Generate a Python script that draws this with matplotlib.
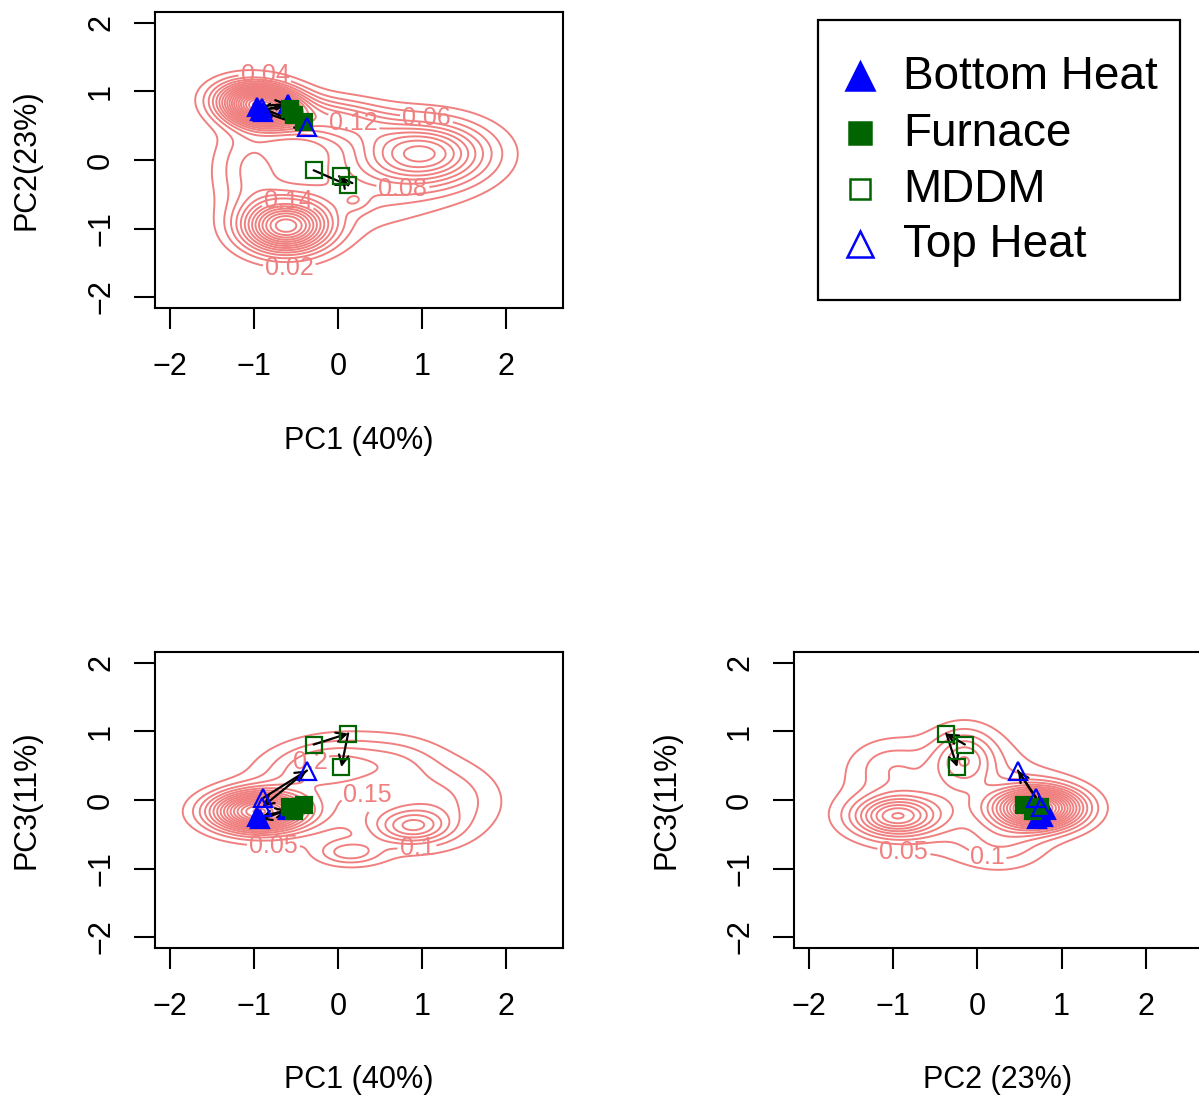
import numpy as np
import matplotlib
matplotlib.use("Agg")
import matplotlib.pyplot as plt
from matplotlib.patches import Rectangle

plt.rcParams['font.family'] = ['Liberation Sans', 'DejaVu Sans']

# ---- sample scores (PC1, PC2, PC3), in processing order within each group ----
groups = ["Bottom Heat", "Furnace", "MDDM", "Top Heat"]
bottom_pc1 = [-0.96, -0.60, -0.93]
bottom_pc2 = [0.78, 0.82, 0.71]
bottom_pc3 = [-0.25, -0.15, -0.28]

furnace_pc1 = [-0.57, -0.52, -0.40]
furnace_pc2 = [0.74, 0.66, 0.55]
furnace_pc3 = [-0.10, -0.16, -0.07]

mddm_pc1 = [-0.29, 0.12, 0.04]
mddm_pc2 = [-0.15, -0.37, -0.24]
mddm_pc3 = [0.81, 0.97, 0.48]

top_pc1 = [-0.89, -0.37, -0.90]
top_pc2 = [0.70, 0.48, 0.76]
top_pc3 = [0.03, 0.43, -0.10]

# ---- background density: Gaussian bumps (centre x, centre y, sd x, sd y, corr, height) ----
dens12_cx = [-0.92, -0.05, 1.02, -0.62, 0.10, -1.05, 0.20]
dens12_cy = [0.80, 0.58, 0.10, -0.97, -0.30, -0.10, -0.60]
dens12_sx = [0.32, 0.45, 0.52, 0.35, 0.80, 0.28, 0.12]
dens12_sy = [0.21, 0.22, 0.32, 0.26, 0.50, 0.45, 0.10]
dens12_r = [-0.15, -0.2, 0.0, 0.0, 0.0, 0.0, 0.0]
dens12_h = [0.38, 0.10, 0.19, 0.28, 0.05, 0.05, 0.03]

dens13_cx = [-0.95, 0.89, 0.14, -0.15, 0.50, 1.30, 0.75]
dens13_cy = [-0.17, -0.39, -0.77, 0.50, -0.05, 0.00, 0.55]
dens13_sx = [0.38, 0.30, 0.25, 0.50, 0.85, 0.40, 0.35]
dens13_sy = [0.20, 0.17, 0.12, 0.28, 0.50, 0.35, 0.25]
dens13_r = [0.0, 0.0, 0.0, 0.2, 0.0, 0.0, 0.0]
dens13_h = [0.78, 0.26, 0.15, 0.18, 0.12, 0.08, 0.07]

dens23_cx = [0.72, -0.97, -0.15, -0.30, 0.30, -1.05]
dens23_cy = [-0.12, -0.24, 0.62, 0.05, -0.65, 0.50]
dens23_sx = [0.34, 0.34, 0.25, 0.80, 0.35, 0.30]
dens23_sy = [0.20, 0.20, 0.28, 0.55, 0.25, 0.25]
dens23_r = [0.0, 0.0, 0.0, 0.0, 0.0, 0.0]
dens23_h = [0.80, 0.42, 0.22, 0.14, 0.10, 0.08]

COL = {"Bottom Heat": "#0000FF", "Furnace": "#006400", "MDDM": "#006400", "Top Heat": "#0000FF"}
MARK = {"Bottom Heat": "^", "Furnace": "s", "MDDM": "s", "Top Heat": "^"}
FILLED = {"Bottom Heat": True, "Furnace": True, "MDDM": False, "Top Heat": False}
MSIZE = {"^": 12.5, "s": 11}
CONTOUR_COL = "#F08080"

W, H = 1199, 1098
fig = plt.figure(figsize=(W / 100, H / 100), dpi=100)


def px_axes(x0, x1, y0, y1):
    return fig.add_axes([x0 / W, 1 - y1 / H, (x1 - x0) / W, (y1 - y0) / H])


def density(xx, yy, cx, cy, sx, sy, r, h):
    z = np.zeros_like(xx)
    for a, b, s, t, rho, hh in zip(cx, cy, sx, sy, r, h):
        u = (xx - a) / s
        v = (yy - b) / t
        q = (u * u - 2 * rho * u * v + v * v) / (1 - rho * rho)
        z += hh * np.exp(-0.5 * q)
    return z


def style_axes(ax):
    ax.set_xlim(-2.18, 2.68)
    ax.set_ylim(-2.16, 2.16)
    ax.set_xticks([-2, -1, 0, 1, 2])
    ax.set_yticks([-2, -1, 0, 1, 2])
    for s in ax.spines.values():
        s.set_linewidth(1.5)
    ax.tick_params(direction='out', length=15, width=1.5, labelsize=22, pad=17)
    ax.tick_params(axis='y', labelrotation=90, pad=13)
    for lab in ax.get_yticklabels():
        lab.set_va('center')


def draw_panel(ax, xs, ys, dens, step, labels):
    gx = np.linspace(-2.2, 2.7, 450)
    gy = np.linspace(-2.2, 2.2, 450)
    xx, yy = np.meshgrid(gx, gy)
    zz = density(xx, yy, *dens)
    n_levels = int(zz.max() / step)
    label_pos = {round(lev / step): pos for lev, pos in labels}
    for k in range(1, n_levels + 1):
        cs = ax.contour(xx, yy, zz, levels=[k * step], colors=CONTOUR_COL,
                        linewidths=1.4, zorder=1)
        if k in label_pos:
            txts = ax.clabel(cs, inline=True, inline_spacing=2, fontsize=18,
                             fmt=lambda v: f"{v:g}", manual=[label_pos[k]],
                             colors=CONTOUR_COL)
            for t in txts:
                t.set_rotation(0)
    for g, x, y in zip(groups, xs, ys):
        for i in range(len(x) - 1):
            ax.annotate("", xy=(x[i + 1], y[i + 1]), xytext=(x[i], y[i]),
                        arrowprops=dict(arrowstyle='->', color='black', lw=1.6,
                                        shrinkA=0, shrinkB=0, mutation_scale=17),
                        zorder=3)
    for g, x, y in zip(groups, xs, ys):
        m = MARK[g]
        ax.plot(x, y, ls='none', marker=m, ms=MSIZE[m], mew=1.6,
                mec=COL[g], mfc=COL[g] if FILLED[g] else 'none', zorder=4)
    style_axes(ax)


# PC1 vs PC2
ax1 = px_axes(155, 563, 12, 308)
draw_panel(ax1,
           [bottom_pc1, furnace_pc1, mddm_pc1, top_pc1],
           [bottom_pc2, furnace_pc2, mddm_pc2, top_pc2],
           (dens12_cx, dens12_cy, dens12_sx, dens12_sy, dens12_r, dens12_h), 0.02,
           [(0.04, (-0.87, 1.23)), (0.12, (0.23, 0.68)), (0.06, (1.06, 0.68)),
            (0.08, (0.77, -0.58)), (0.14, (-0.6, -0.72)), (0.02, (-0.58, -1.54))])

# PC1 vs PC3
ax2 = px_axes(155, 563, 652, 948)
draw_panel(ax2,
           [bottom_pc1, furnace_pc1, mddm_pc1, top_pc1],
           [bottom_pc3, furnace_pc3, mddm_pc3, top_pc3],
           (dens13_cx, dens13_cy, dens13_sx, dens13_sy, dens13_r, dens13_h), 0.05,
           [(0.05, (-0.77, -0.6)), (0.1, (0.94, -0.68)), (0.15, (0.36, 0.36)),
            (0.2, (-0.36, 0.62))])

# PC2 vs PC3
ax3 = px_axes(794, 1203, 652, 948)
draw_panel(ax3,
           [bottom_pc2, furnace_pc2, mddm_pc2, top_pc2],
           [bottom_pc3, furnace_pc3, mddm_pc3, top_pc3],
           (dens23_cx, dens23_cy, dens23_sx, dens23_sy, dens23_r, dens23_h), 0.05,
           [(0.05, (-0.87, -0.68)), (0.1, (0.1, -0.92))])

# axis titles
def ftext(x, y, s, rot=0):
    fig.text(x / W, 1 - y / H, s, fontsize=22, rotation=rot, ha='center', va='center')

ftext(359, 441, "PC1 (40%)")
ftext(26, 160, "PC2(23%)", 90)
ftext(359, 1080, "PC1 (40%)")
ftext(26, 800, "PC3(11%)", 90)
ftext(998, 1080, "PC2 (23%)")
ftext(666, 800, "PC3(11%)", 90)

# legend
lg = fig.add_axes([0, 0, 1, 1])
lg.set_xlim(0, W)
lg.set_ylim(H, 0)
lg.axis('off')
lg.add_patch(Rectangle((818, 20), 362, 280, fill=False, lw=1.6, ec='black'))
leg_rows = [76, 133, 189, 244]
leg_ms = {"^": 20, "s": 16}
for g, yrow in zip(groups, leg_rows):
    m = MARK[g]
    lg.plot([860], [yrow], ls='none', marker=m, ms=leg_ms[m] if FILLED[g] else leg_ms[m] - 1,
            mew=1.8, mec=COL[g], mfc=COL[g] if FILLED[g] else 'none')
    lg.text(903, yrow + 1, g, fontsize=33, va='center', ha='left')

fig.savefig("out.png", dpi=100)
